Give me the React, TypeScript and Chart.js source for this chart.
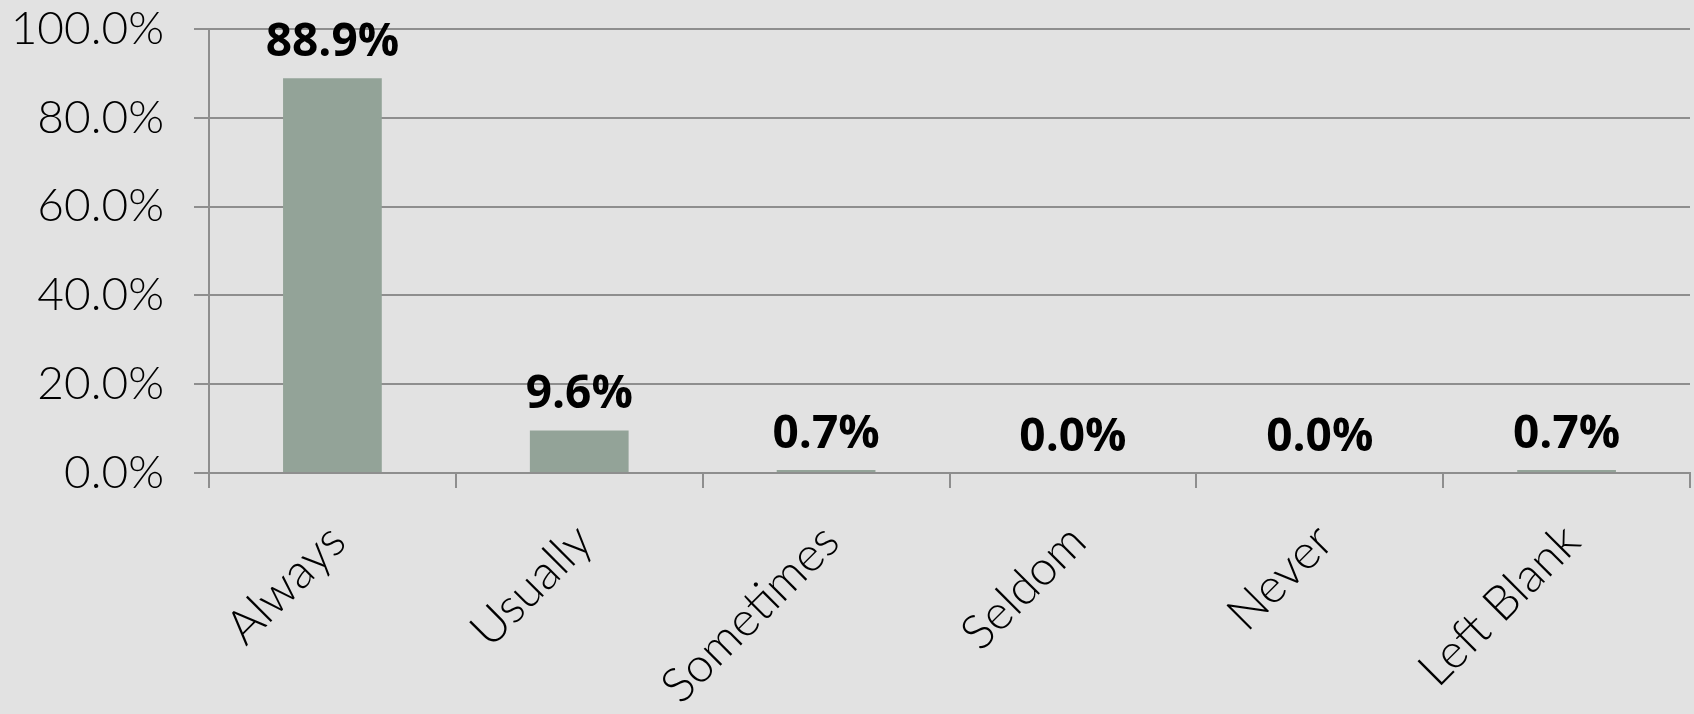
import React, { useEffect, useRef } from "react";
import { Chart, registerables } from "chart.js";

Chart.register(...registerables);

const categories: string[] = ["Always", "Usually", "Sometimes", "Seldom", "Never", "Left Blank"];
const percentValues: number[] = [88.9, 9.6, 0.7, 0.0, 0.0, 0.7];
const yAxisMin = 0;
const yAxisMax = 100;
const yAxisStep = 20;

const BAR_COLOR = "#93a398";
const GRID_COLOR = "#8e8e8e";
const BG_COLOR = "#e2e2e2";
const TEXT_COLOR = "#000000";

const formatPct = (v: number) => `${Number(v).toFixed(1)}%`;

const barValueLabels = {
  id: "barValueLabels",
  afterDatasetsDraw(chart: any) {
    const ctx = chart.ctx;
    chart.data.datasets.forEach((ds: any, di: number) => {
      const meta = chart.getDatasetMeta(di);
      meta.data.forEach((bar: any, i: number) => {
        const v = ds.data[i] as number;
        ctx.save();
        ctx.font = "bold 46px 'Open Sans'";
        ctx.fillStyle = TEXT_COLOR;
        ctx.textAlign = "center";
        ctx.textBaseline = "alphabetic";
        ctx.fillText(formatPct(v), bar.x, bar.y - 22);
        ctx.restore();
      });
    });
  },
};

export default function App() {
  const canvasRef = useRef<HTMLCanvasElement | null>(null);

  useEffect(() => {
    if (!canvasRef.current) return;
    const chart = new Chart(canvasRef.current, {
      type: "bar",
      data: {
        labels: categories,
        datasets: [
          {
            data: percentValues,
            backgroundColor: BAR_COLOR,
            borderWidth: 0,
            categoryPercentage: 1,
            barPercentage: 0.4,
          },
        ],
      },
      options: {
        responsive: false,
        animation: false,
        devicePixelRatio: 1,
        layout: { padding: { top: 29, right: 4, left: 0, bottom: 0 } },
        plugins: {
          legend: { display: false },
          tooltip: { enabled: false },
        },
        scales: {
          x: {
            afterFit: (scale: any) => {
              scale.height = 241;
            },
            border: { display: true, color: GRID_COLOR, width: 2 },
            grid: {
              drawOnChartArea: false,
              drawTicks: true,
              tickLength: 15,
              color: GRID_COLOR,
              lineWidth: 2,
              offset: true,
            },
            ticks: {
              autoSkip: false,
              maxRotation: 45,
              minRotation: 45,
              padding: 25,
              labelOffset: 5,
              color: TEXT_COLOR,
              font: { family: "Lato", size: 48, weight: "300" },
            },
          },
          y: {
            min: yAxisMin,
            max: yAxisMax,
            afterFit: (scale: any) => {
              scale.width = 209;
              scale.paddingTop = 0;
              scale.paddingBottom = 0;
            },
            border: { display: true, color: GRID_COLOR, width: 2 },
            grid: {
              color: GRID_COLOR,
              lineWidth: 2,
              drawTicks: true,
              tickLength: 15,
            },
            ticks: {
              stepSize: yAxisStep,
              padding: 30,
              color: TEXT_COLOR,
              font: { family: "Lato", size: 46, weight: "300" },
              callback: (v: any) => formatPct(Number(v)),
            },
          },
        },
      },
      plugins: [barValueLabels],
    });
    return () => chart.destroy();
  }, []);

  return (
    <div
      style={{
        position: "fixed",
        left: 0,
        top: 0,
        width: 1694,
        height: 714,
        background: BG_COLOR,
      }}
    >
      <canvas ref={canvasRef} width={1694} height={714} style={{ display: "block" }} />
    </div>
  );
}
